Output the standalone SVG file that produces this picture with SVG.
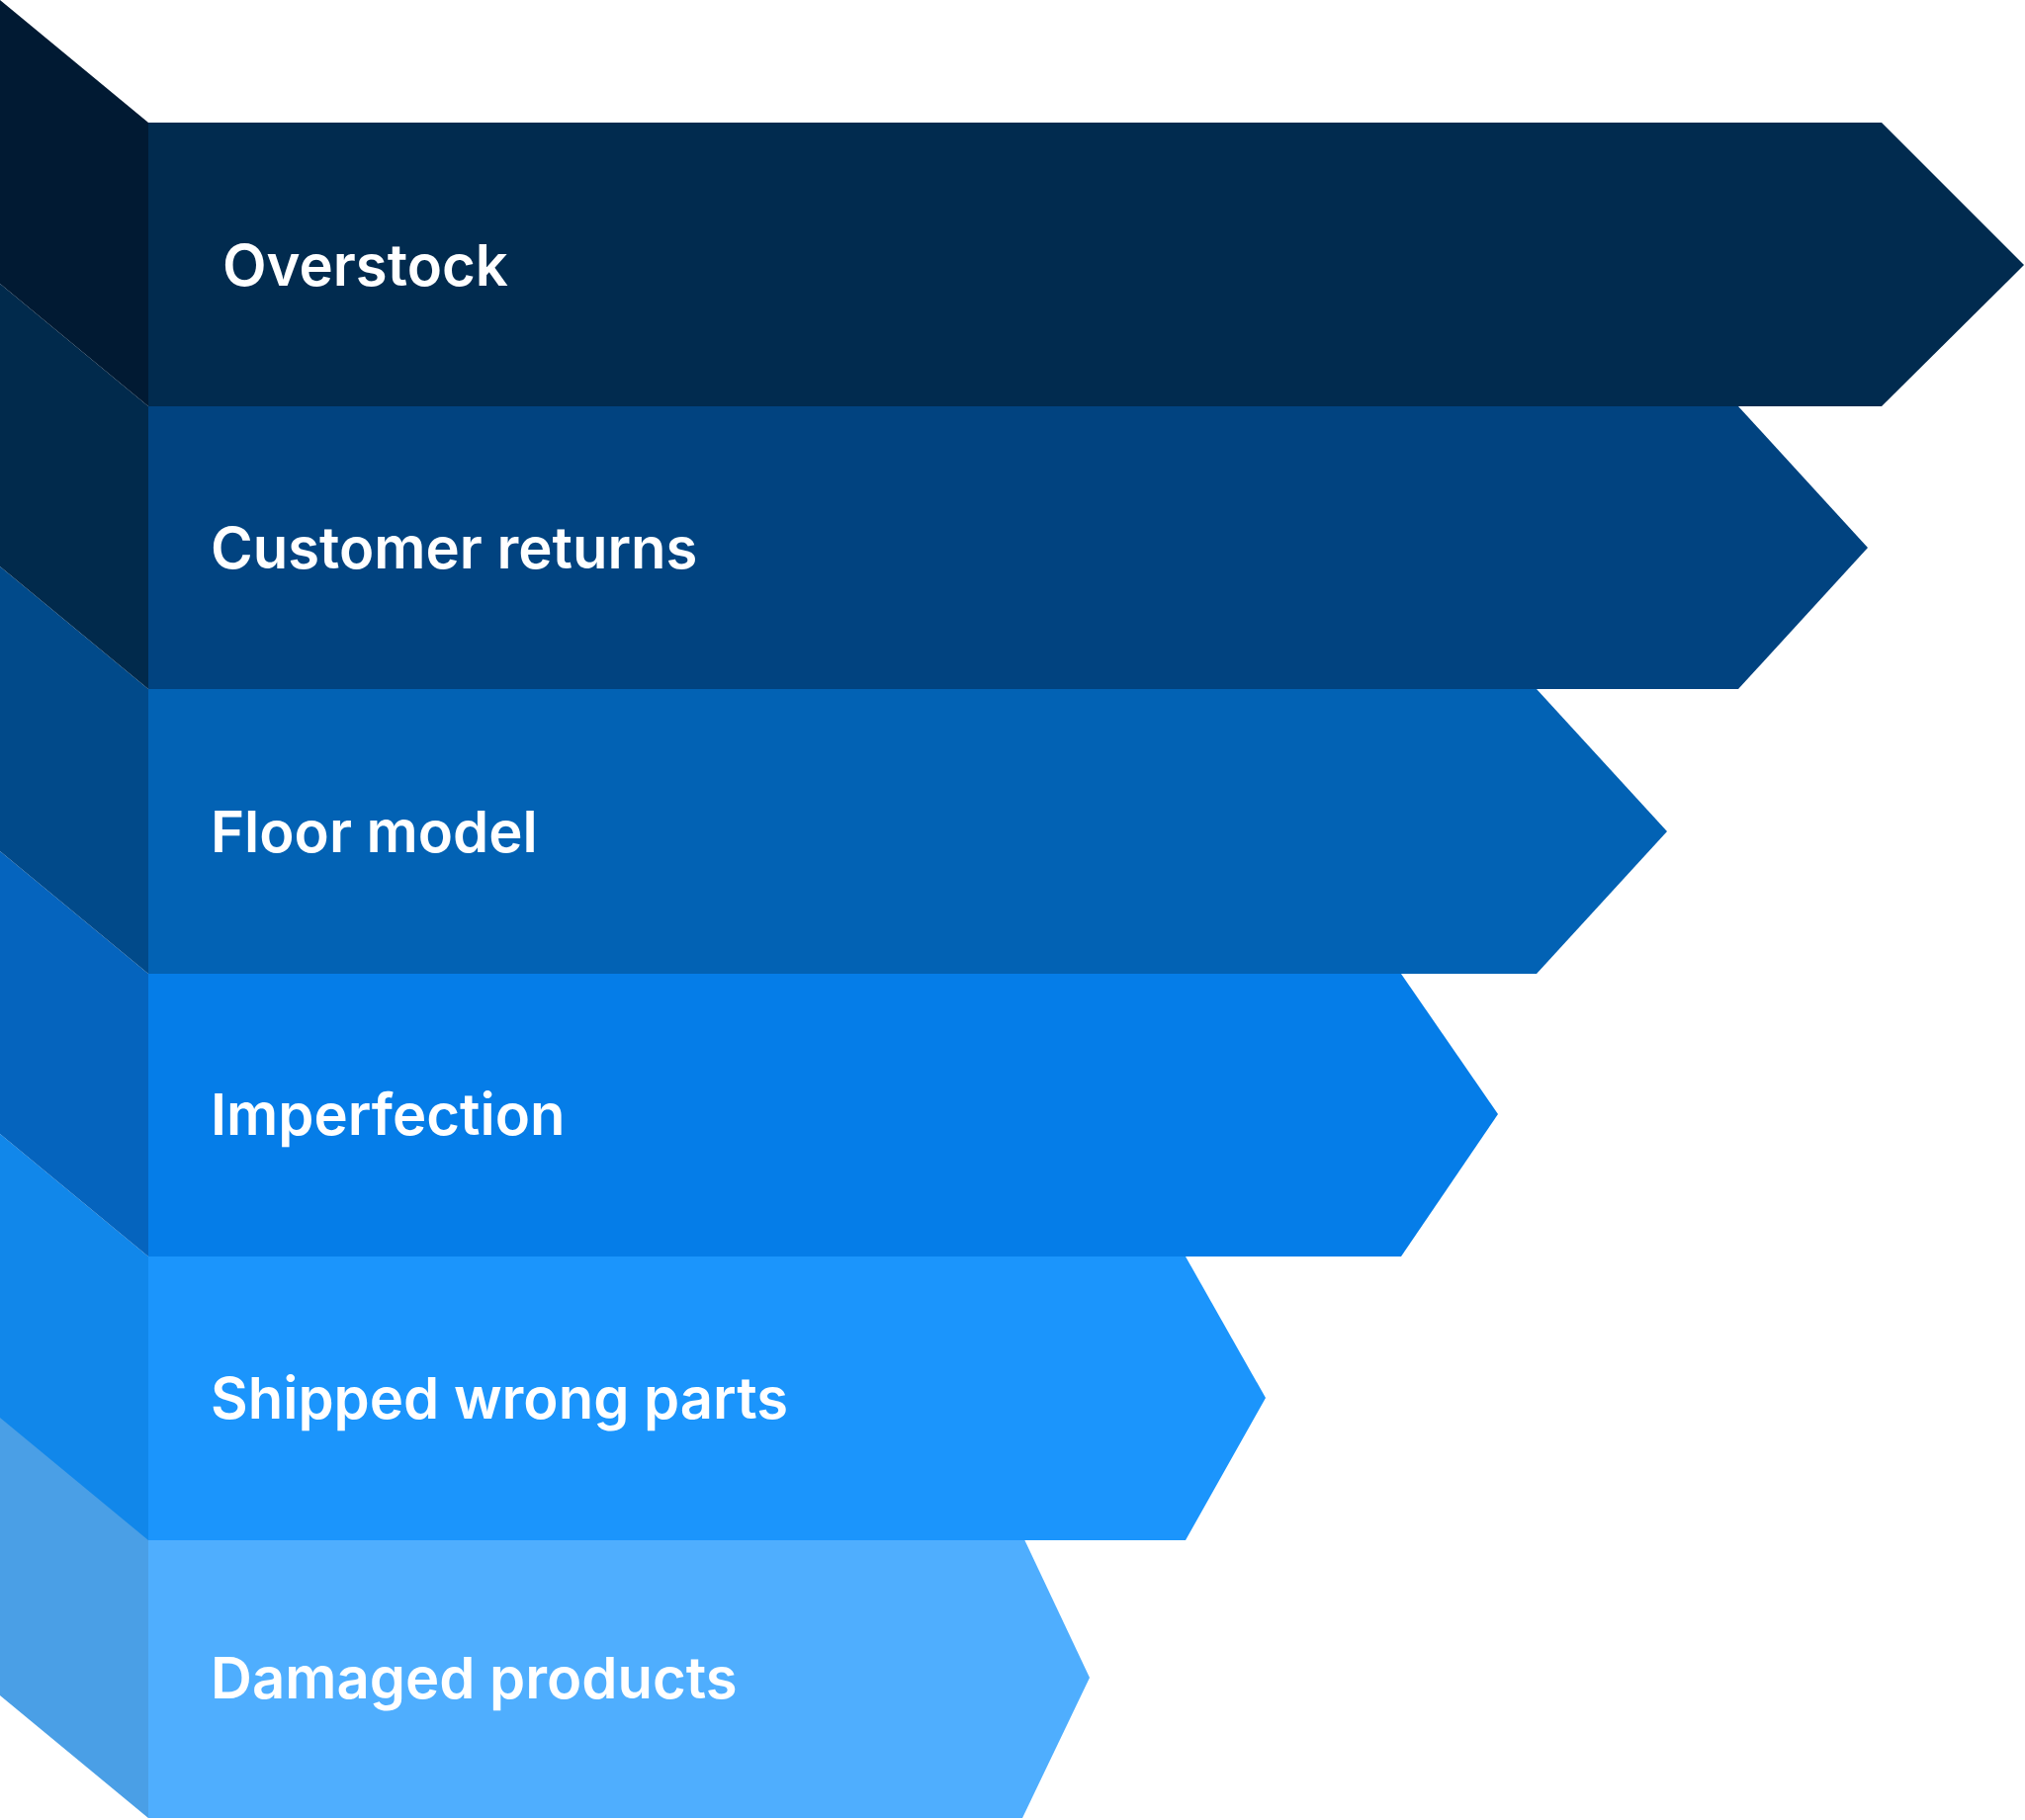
<svg xmlns="http://www.w3.org/2000/svg" width="2048" height="1841" viewBox="0 0 2048 1841">
<style>
text{font-family:Inter,"Noto Sans",sans-serif;font-weight:600;font-size:58px;fill:#fff}
</style>
<rect width="2048" height="1841" fill="#fff"/>
<g id="n6"><polygon points="0,1429 150,1553 150,1839 0,1715" fill="#4a9fe6"/><polygon points="150,1553 1034,1553 1102,1697 1034,1839 150,1839" fill="#4faefe"/><text x="213" y="1718">Damaged products</text></g>
<g id="n5"><polygon points="0,1147 150,1271 150,1558 0,1434" fill="#1187ea"/><polygon points="150,1271 1199,1271 1280,1414 1199,1558 150,1558" fill="#1b95fc"/><text x="213" y="1435">Shipped wrong parts</text></g>
<g id="n4"><polygon points="0,861 150,985 150,1271 0,1147" fill="#0564be"/><polygon points="150,985 1417,985 1515,1127 1417,1271 150,1271" fill="#057de8"/><text x="213" y="1148">Imperfection</text></g>
<g id="n3"><polygon points="0,573 150,697 150,985 0,861" fill="#014a8a"/><polygon points="150,697 1554,697 1686,841 1554,985 150,985" fill="#0262b4"/><text x="213" y="862">Floor model</text></g>
<g id="n2"><polygon points="0,287 150,411 150,697 0,573" fill="#012a4c"/><polygon points="150,411 1758,411 1889,554 1758,697 150,697" fill="#014380"/><text x="213" y="575">Customer returns</text></g>
<g id="n1"><polygon points="0,0 150,124 150,411 0,287" fill="#011a33"/><polygon points="150,124 1903,124 2047,268 1903,411 150,411" fill="#012b4f"/><text x="225" y="289">Overstock</text></g>
<g id="connectors"/>
</svg>
